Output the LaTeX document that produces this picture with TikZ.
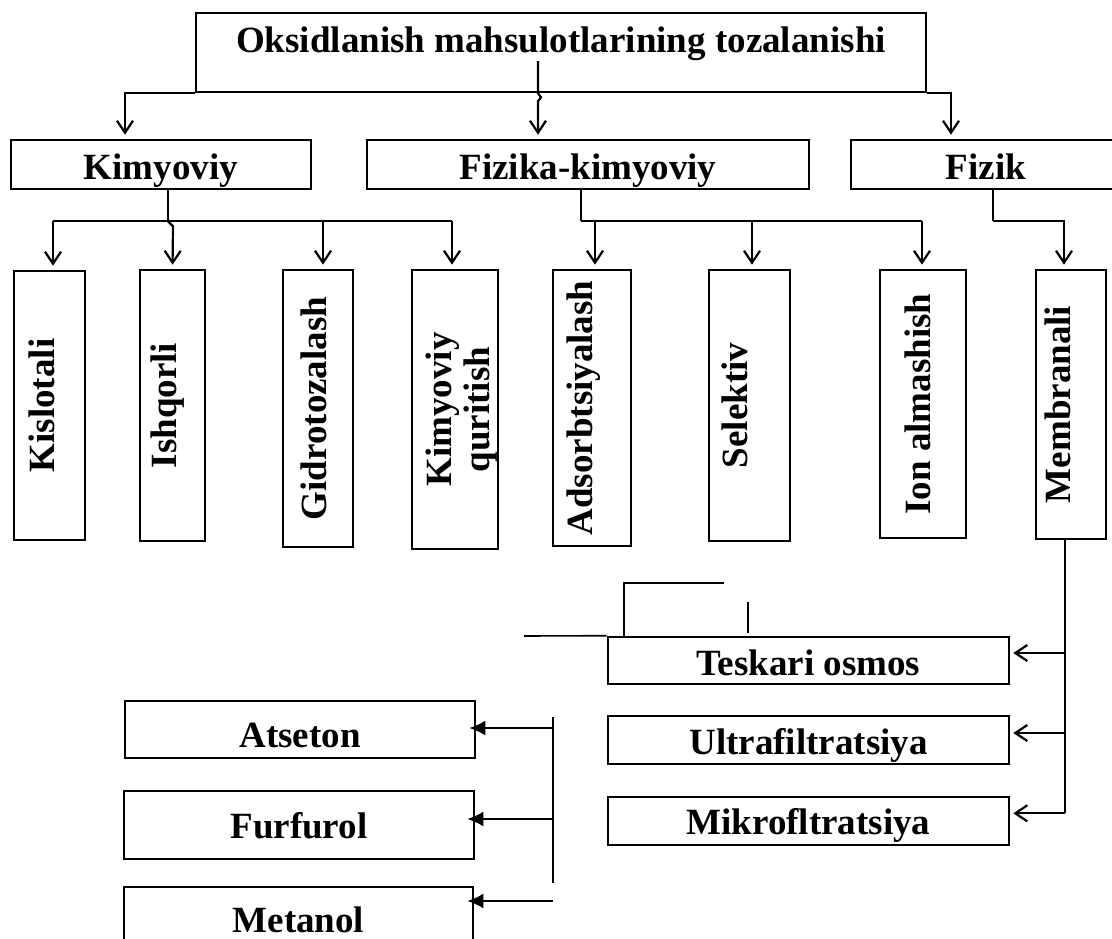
\documentclass[tikz,border=0pt]{standalone}
\usepackage{fontspec}
\setmainfont{Liberation Serif}
\usetikzlibrary{arrows.meta}
\newcommand{\boxfont}{\bfseries\fontsize{37}{38}\selectfont}
\tikzset{
  box/.style={draw, line width=2.6pt, inner sep=0pt, font=\boxfont},
  hbox/.style={box, text height=39pt, text depth=10pt},
  vbox/.style={box, minimum width=#1},
  line/.style={line width=2.2pt},
  arr/.style={line, -{Straight Barb[length=12pt,width=16pt]}, shorten >=4pt},
  thinline/.style={line width=1.6pt},
  farr/.style={line width=2pt, -{Latex[length=16pt,width=15pt]}, shorten >=-7pt},
}
\begin{document}
\begin{tikzpicture}[x=1pt,y=-1pt]
\useasboundingbox (0,0) rectangle (1112,938);
% title
\node[box, minimum width=730pt, text height=39pt, text depth=40pt] (title) at (561,52.5)
  {Oksidlanish mahsulotlarining tozalanishi};
% first level
\node[hbox, minimum width=300pt] (kimyoviy) at (161,164.5) {Kimyoviy};
\node[hbox, minimum width=442pt] (fizkim) at (588,164.5) {Fizika-kimyoviy};
\node[hbox, minimum width=270pt] (fizik) at (986,164.5) {Fizik};
% second level
\node[vbox=71pt, minimum height=269pt] (kislotali) at (49.5,405.5) {\rotatebox{90}{Kislotali}\kern16pt};
\node[vbox=65pt, minimum height=271pt] (ishqorli) at (172.5,405.5) {\rotatebox{90}{Ishqorli}\kern10pt};
\node[vbox=70pt, minimum height=277pt] (gidro) at (318,408.5) {\rotatebox{90}{Gidrotozalash}\kern8pt};
\node[vbox=86pt, minimum height=279pt] (quritish) at (455,409.5)
  {\kern8pt\rotatebox{90}{\begin{tabular}{@{}c@{}}Kimyoviy\\quritish\end{tabular}}\kern-8pt};
\node[vbox=78pt, minimum height=276pt] (adsorb) at (592,408) {\rotatebox{90}{Adsorbtsiyalash}\kern16pt};
\node[vbox=81pt, minimum height=271pt] (selektiv) at (749.5,405.5) {\rotatebox{90}{Selektiv}\kern30pt};
\node[vbox=86pt, minimum height=268pt] (ion) at (923,404) {\rotatebox{90}{Ion almashish}\kern10pt};
\node[vbox=70pt, minimum height=269pt] (membranali) at (1071,404.5) {\rotatebox{90}{Membranali}\kern26pt};
% membrane methods
\node[box, minimum width=401pt, text height=38pt, text depth=9pt] (teskari) at (808.5,660.5) {Teskari osmos};
\node[box, minimum width=401pt, text height=38pt, text depth=10pt] (ultra) at (808.5,740) {Ultrafiltratsiya};
\node[box, minimum width=401pt, text height=37pt, text depth=11pt] (mikro) at (808.5,821) {Mikrofltratsiya};
% products
\node[box, minimum width=350pt, text height=46pt, text depth=11pt] (atseton) at (300,729.5) {Atseton};
\node[box, minimum width=350pt, text height=47pt, text depth=21pt] (furfurol) at (299,825) {Furfurol};
\node[box, minimum width=349pt, text height=45pt, text depth=20pt] (metanol) at (298.5,919.5) {Metanol};

% title -> first level
\coordinate (tstem) at (538,61);
\draw[arr] (title.south west) -| ([xshift=-36pt]kimyoviy.north);
\draw[arr] (tstem) -- (tstem |- title.south) -- ++(3,4) -- ++(-3,4) -- ([xshift=-50pt]fizkim.north);
\draw[arr] (title.south east) -| ([xshift=-35pt]fizik.north);

% Kimyoviy group
\coordinate (k1) at ([xshift=3.5pt]kislotali.north);
\coordinate (k3) at ([xshift=5pt]gidro.north);
\coordinate (k4) at ([xshift=-3pt]quritish.north);
\draw[line] ([xshift=7pt]kimyoviy.south) -- ++(0,31) coordinate (kb);
\draw[line] (k1 |- kb) -- (k4 |- kb);
\draw[arr] (k1 |- kb) -- (k1);
\draw[arr] (kb) -- ++(5,5) -- (ishqorli.north);
\draw[arr] (k3 |- kb) -- (k3);
\draw[arr] (k4 |- kb) -- (k4);

% Fizika-kimyoviy group
\coordinate (f1) at ([xshift=3pt]adsorb.north);
\coordinate (f2) at ([xshift=2.5pt]selektiv.north);
\coordinate (f3) at ([xshift=-1pt]ion.north);
\draw[line] ([xshift=-7pt]fizkim.south) -- ++(0,31) coordinate (fb);
\draw[line] (fb) -- (f3 |- fb);
\draw[arr] (f1 |- fb) -- (f1);
\draw[arr] (f2 |- fb) -- (f2);
\draw[arr] (f3 |- fb) -- (f3);

% Fizik group
\coordinate (m0) at ([xshift=-7pt]membranali.north);
\draw[line] ([xshift=7pt]fizik.south) -- ++(0,31) coordinate (zb);
\draw[arr] (zb) -- (zb -| m0) -- (m0);

% Membranali -> methods
\draw[line] ([xshift=-6pt]membranali.south) -- ++(0,273) coordinate (mb3);
\coordinate (mb1) at ([yshift=7.5pt]teskari.east -| mb3);
\coordinate (mb2) at ([yshift=7pt]ultra.east -| mb3);
\draw[arr, shorten >=3pt] (mb1) -- (mb1 -| teskari.east);
\draw[arr, shorten >=3pt] (mb2) -- (mb2 -| ultra.east);
\draw[arr, shorten >=3pt] (mb3) -- (mb3 -| mikro.east);

% loose lines
\draw[thinline] (524,636) -- (teskari.north west);
\draw[thinline] (624,636) -- (624,583) -- (724,583);
\draw[thinline] (748,602) -- (748,633);

% products
\coordinate (p1) at (553,728);
\coordinate (p2) at (553,819);
\coordinate (p3) at (553,901);
\draw[thinline] (553,717) -- (553,883);
\draw[farr] (p1) -- (p1 -| atseton.east);
\draw[farr, shorten >=-8pt] (p2) -- (p2 -| furfurol.east);
\draw[farr] (p3) -- (p3 -| metanol.east);
\end{tikzpicture}
\end{document}
